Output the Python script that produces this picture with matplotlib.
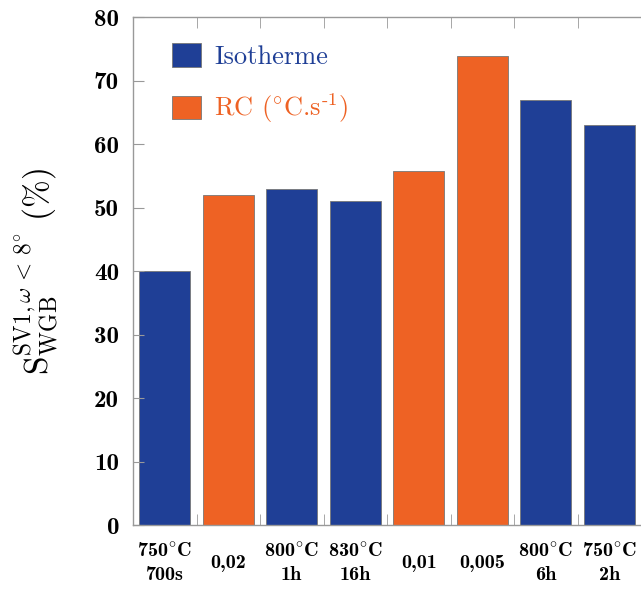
import matplotlib
matplotlib.use('Agg')
import matplotlib.pyplot as plt
import numpy as np

labels = ['750$^{\\circ}$C\n700s', '0,02', '800$^{\\circ}$C\n1h', '830$^{\\circ}$C\n16h',
          '0,01', '0,005', '800$^{\\circ}$C\n6h', '750$^{\\circ}$C\n2h']
values = [40, 52, 53, 51, 55.8, 73.8, 67, 63]
kinds = ['iso', 'rc', 'iso', 'iso', 'rc', 'rc', 'iso', 'iso']

blue = '#1f3f96'
orange = '#ee6224'
grey = '#999999'

plt.rcParams['mathtext.fontset'] = 'cm'
plt.rcParams['font.family'] = ['cmb10', 'DejaVu Serif']
plt.rcParams['axes.unicode_minus'] = False

fig = plt.figure(figsize=(6.41, 5.9), dpi=100)
ax = fig.add_axes([0.2075, 0.110, 0.7925, 0.861])

x = np.arange(len(values))
colors = [blue if k == 'iso' else orange for k in kinds]
ax.bar(x, values, width=0.8, color=colors, edgecolor='#777777', linewidth=0.6)

# legend handles
ax.bar([0], [0], color=blue, edgecolor='#777777', linewidth=0.6, label='Isotherme')
ax.bar([0], [0], color=orange, edgecolor='#777777', linewidth=0.6,
       label=r'RC ($^{\circ}$C.s$^{\text{-1}}$)')

ax.set_xlim(-0.5, 7.5)
ax.set_ylim(0, 80)
ax.set_yticks(np.arange(0, 81, 10))

ax.set_xticks(x)
ax.set_xticklabels(labels, fontsize=14.5, linespacing=1.4, ha='center')
ax.set_xticks(x[:-1] + 0.5, minor=True)
ax.tick_params(axis='x', which='major', length=0, pad=27)
ax.tick_params(axis='x', which='minor', direction='in', length=8,
               color=grey, top=True, bottom=True)
ax.tick_params(axis='y', direction='in', length=8, color=grey,
               labelsize=18, pad=10)
for t in ax.get_xticklabels():
    t.set_va('center')
    t.set_multialignment('center')

for s in ['left', 'top', 'bottom']:
    ax.spines[s].set_color(grey)
    ax.spines[s].set_linewidth(1.0)
ax.spines['right'].set_visible(False)

ax.set_ylabel(r'$\mathrm{S}_{\mathrm{WGB}}^{\mathrm{SV1},\omega\,<\,8^{\circ}}\ (\%)$',
              fontsize=24, labelpad=24)

h, l = ax.get_legend_handles_labels()
leg = ax.legend(h[-2:], l[-2:], loc='upper left', bbox_to_anchor=(0.03, 0.995),
                frameon=False, handlelength=1.1, handleheight=1.0,
                handletextpad=0.5, labelspacing=0.85,
                prop={'family': ['cmr10', 'DejaVu Serif'], 'size': 19})
leg.get_texts()[0].set_color(blue)
leg.get_texts()[1].set_color(orange)

fig.savefig('out.png', dpi=100)
